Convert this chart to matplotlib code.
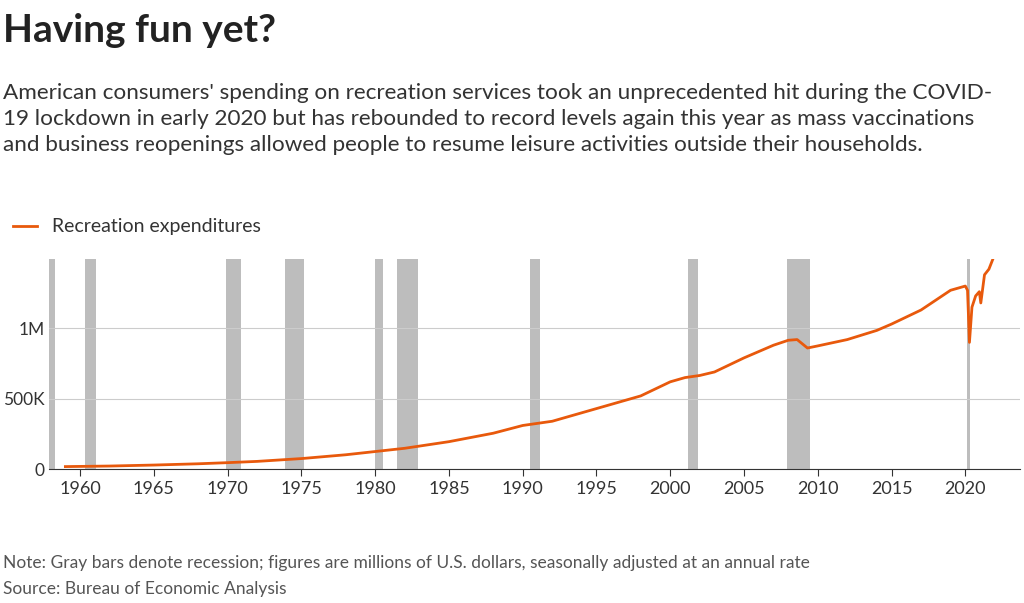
import matplotlib.pyplot as plt

plt.rcParams['font.family'] = ['Lato', 'DejaVu Sans']

# recreation services spending, millions USD
years = [1959, 1962, 1965, 1968, 1970, 1972, 1975, 1978, 1980, 1982, 1985, 1988,
         1990, 1992, 1995, 1998, 2000, 2001, 2002, 2003, 2005, 2007, 2008, 2008.6,
         2009.3, 2010, 2012, 2014, 2015, 2017, 2019, 2020.0, 2020.15, 2020.28,
         2020.45, 2020.7, 2020.95, 2021.05, 2021.3, 2021.6, 2021.9]
spend = [18e3, 22e3, 29e3, 38e3, 46e3, 55e3, 75e3, 102e3, 125e3, 148e3, 195e3, 255e3,
         310e3, 340e3, 430e3, 520e3, 620e3, 650e3, 665e3, 690e3, 790e3, 880e3, 915e3, 920e3,
         860e3, 875e3, 920e3, 985e3, 1030e3, 1130e3, 1270e3, 1300e3, 1270e3, 900e3,
         1150e3, 1230e3, 1260e3, 1180e3, 1380e3, 1420e3, 1500e3]
recessions = [(1957.6, 1958.3), (1960.3, 1961.1), (1969.9, 1970.9), (1973.9, 1975.2),
              (1980.0, 1980.5), (1981.5, 1982.9), (1990.5, 1991.2), (2001.2, 2001.9),
              (2007.9, 2009.5), (2020.1, 2020.35)]

fig = plt.figure(figsize=(10.24, 6.03), dpi=100)
ax = fig.add_axes([0.048, 0.222, 0.948, 0.348])

for a, b in recessions:
    ax.axvspan(a, b, color='#bdbdbd', lw=0, zorder=1)
ax.plot(years, spend, color='#e8590c', lw=2.0, zorder=3, label='Recreation expenditures')

ax.set_xlim(1957.9, 2023.7)
ax.set_ylim(0, 1.49e6)
ax.set_yticks([0, 5e5, 1e6])
ax.set_yticklabels(['0', '500K', '1M'])
ax.set_xticks(range(1960, 2021, 5))
ax.grid(axis='y', color='#cccccc', lw=0.8, zorder=0)
for s in ['top', 'right', 'left']:
    ax.spines[s].set_visible(False)
ax.spines['bottom'].set_color('#333333')
ax.tick_params(axis='y', length=0, labelsize=12.5, colors='#333333', pad=3)
ax.tick_params(axis='x', labelsize=13, colors='#333333', length=5)

ax.legend(loc='lower left', bbox_to_anchor=(-0.055, 1.03), frameon=False, fontsize=14,
          handlelength=1.2, labelcolor='#333333')

fig.text(0.003, 0.93, 'Having fun yet?', fontsize=28, fontweight='bold', color='#222222')
fig.text(0.003, 0.862, "American consumers' spending on recreation services took an unprecedented hit during the COVID-\n"
         "19 lockdown in early 2020 but has rebounded to record levels again this year as mass vaccinations\n"
         "and business reopenings allowed people to resume leisure activities outside their households.",
         fontsize=16.2, color='#333333', linespacing=1.38, va='top')
fig.text(0.003, 0.058, 'Note: Gray bars denote recession; figures are millions of U.S. dollars, seasonally adjusted at an annual rate',
         fontsize=12.5, color='#555555')
fig.text(0.003, 0.015, 'Source: Bureau of Economic Analysis', fontsize=12.5, color='#555555')

fig.savefig('out.png', dpi=100)
